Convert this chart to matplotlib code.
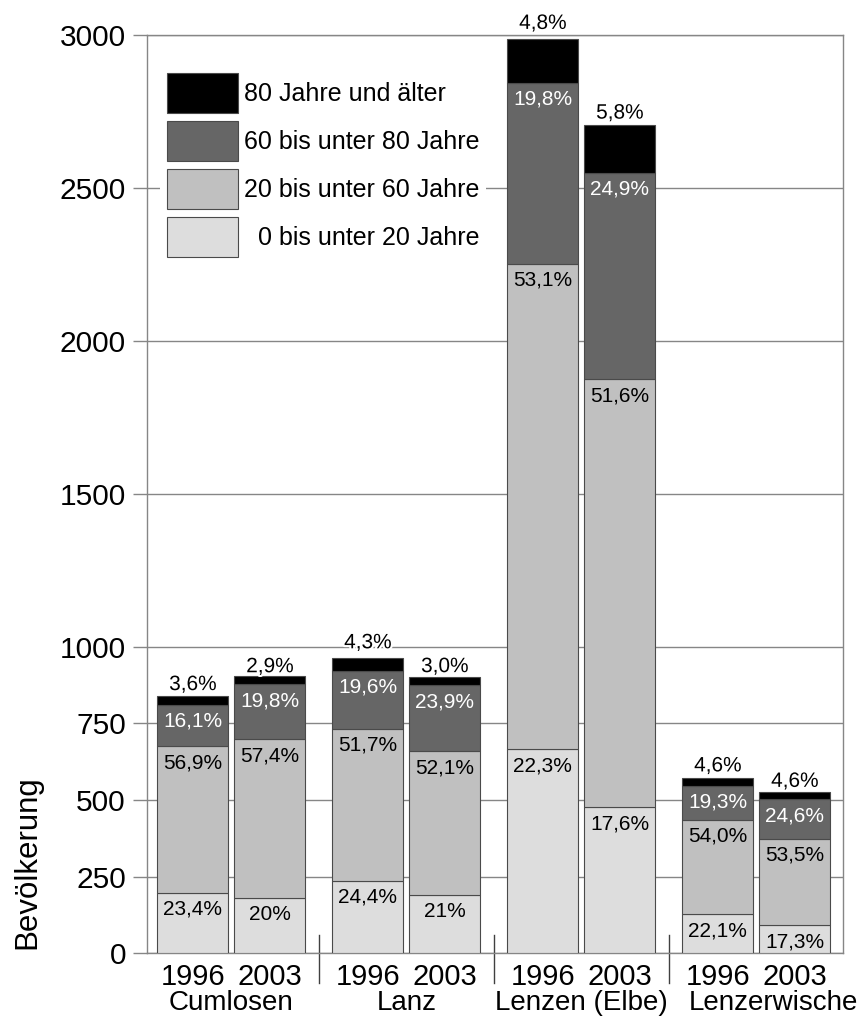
import matplotlib
matplotlib.use('Agg')
import matplotlib.pyplot as plt
from matplotlib.patches import Patch
import matplotlib.patheffects as pe
import matplotlib.transforms as mtransforms

plt.rcParams['font.family'] = ['Liberation Sans', 'DejaVu Sans']

# ---------------- data ----------------
groups = ['Cumlosen', 'Lanz', 'Lenzen (Elbe)', 'Lenzerwische']
years = ['1996', '2003']
# total population per bar (Cumlosen 96/03, Lanz 96/03, Lenzen 96/03, Lenzerwische 96/03)
totals = [841, 903, 964, 902, 2988, 2709, 573, 527]
classes = ['0 bis unter 20 Jahre', '20 bis unter 60 Jahre',
           '60 bis unter 80 Jahre', '80 Jahre und älter']
pct_0_20 = ['23,4%', '20%', '24,4%', '21%', '22,3%', '17,6%', '22,1%', '17,3%']
pct_20_60 = ['56,9%', '57,4%', '51,7%', '52,1%', '53,1%', '51,6%', '54,0%', '53,5%']
pct_60_80 = ['16,1%', '19,8%', '19,6%', '23,9%', '19,8%', '24,9%', '19,3%', '24,6%']
pct_80 = ['3,6%', '2,9%', '4,3%', '3,0%', '4,8%', '5,8%', '4,6%', '4,6%']
yticks = [0, 250, 500, 750, 1000, 1500, 2000, 2500, 3000]

# ---------------- style ----------------
colors = ['#dddddd', '#c0c0c0', '#666666', '#000000']
text_colors = ['black', 'black', 'white', 'black']
edge = '#4a4a4a'
grid_c = '#868686'
pair_off = 0.22
bar_w = 0.406
label_shift = [0, 0, 0, 0.1]
top_label_pad = [4, 3, 7, 3.5, 7, 4.5, 4.5, 3.5]


def to_num(s):
    return float(s.replace('%', '').replace(',', '.'))


pct_labels = [pct_0_20, pct_20_60, pct_60_80, pct_80]

fig = plt.figure(figsize=(8.63, 10.16), dpi=100)
ax = fig.add_axes([0.170, 0.062, 0.8072, 0.9036])

xpos = []
for g in range(len(groups)):
    for j in range(len(years)):
        xpos.append(g + (j - 0.5) * 2 * pair_off)

bottoms = [0.0] * len(totals)
for c in range(4):
    vals = [totals[i] * to_num(pct_labels[c][i]) / 100 for i in range(len(totals))]
    ax.bar(xpos, vals, bar_w, bottom=bottoms, color=colors[c], edgecolor=edge,
           linewidth=0.8, zorder=3)
    for i in range(len(totals)):
        top = bottoms[i] + vals[i]
        if c < 3:
            ax.annotate(pct_labels[c][i], xy=(xpos[i], top), xytext=(0, -5),
                        textcoords='offset points', ha='center', va='top',
                        fontsize=15, color=text_colors[c], zorder=6)
        else:
            ax.annotate(pct_labels[c][i], xy=(xpos[i], top), xytext=(0, top_label_pad[i]),
                        textcoords='offset points', ha='center', va='baseline',
                        fontsize=15, color='black', zorder=6,
                        path_effects=[pe.withStroke(linewidth=3, foreground='white')])
    bottoms = [bottoms[i] + vals[i] for i in range(len(totals))]

ax.set_ylim(0, 3000)
ax.set_xlim(-0.484, 3.497)
ax.set_yticks(yticks)
ax.set_yticklabels([str(t) for t in yticks])
ax.set_xticks(xpos)
ax.set_xticklabels(years * len(groups))
ax.set_axisbelow(True)
ax.yaxis.grid(True, color=grid_c, linewidth=1.0)
ax.tick_params(axis='y', length=10, width=1, color=grid_c, pad=5, labelsize=21.5)
ax.tick_params(axis='x', length=0, pad=7, labelsize=21)
for sp in ax.spines.values():
    sp.set_color(grid_c)
    sp.set_linewidth(1.0)

trans = mtransforms.blended_transform_factory(ax.transData, ax.transAxes)
for g in range(len(groups) - 1):
    ax.plot([g + 0.5, g + 0.5], [0.0196, -0.0327], transform=trans,
            color='#404040', linewidth=1.0, clip_on=False)

for g, name in enumerate(groups):
    ax.annotate(name, xy=(g + label_shift[g], 0), xycoords=trans, xytext=(0, -26.6),
                textcoords='offset points', ha='center', va='top', fontsize=20)

handles = [Patch(facecolor=colors[c], edgecolor=edge, linewidth=0.8) for c in [3, 2, 1, 0]]
leg_labels = [classes[3], classes[2], classes[1], '  ' + classes[0]]
leg = ax.legend(handles, leg_labels, fontsize=18, handlelength=2.84, handleheight=2.085,
                labelspacing=0.32, handletextpad=0.24, borderpad=0.27,
                loc='upper left', bbox_to_anchor=(0.019, 0.966), borderaxespad=0,
                frameon=True, facecolor='white', edgecolor='none', framealpha=1,
                fancybox=False)
leg.set_zorder(7)

fig.text(27.5 / 863, 1 - 862 / 1016, 'Bevölkerung', rotation=90, ha='center',
         va='center', fontsize=22.5)

fig.savefig('out.png', dpi=100)
